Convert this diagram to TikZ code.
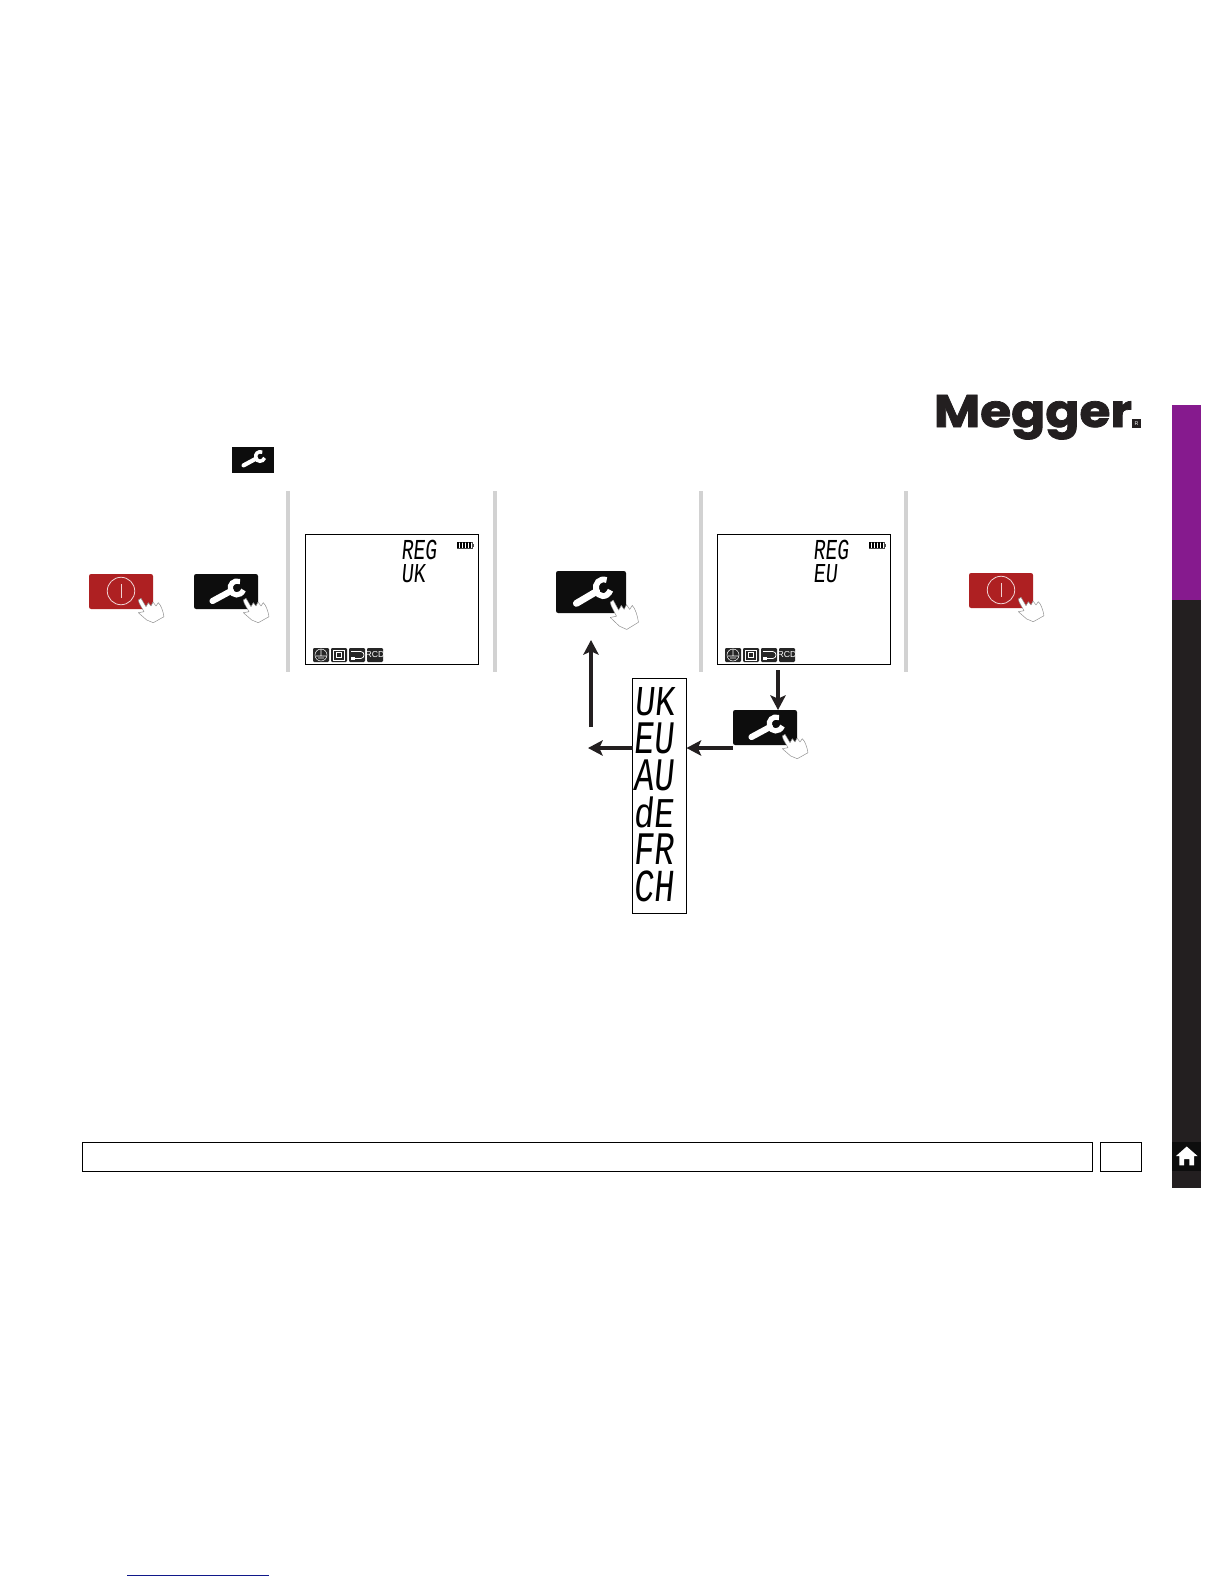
\documentclass[tikz,border=0pt]{standalone}
\usepackage{fontspec}
\usepackage{graphicx}
\usetikzlibrary{arrows.meta}
\setmainfont{Liberation Sans}
\newfontfamily\lcdf{Liberation Mono}
\newfontfamily\logof[BoldFeatures={FakeBold=1.6}]{Poppins}
\definecolor{btnred}{HTML}{AE2022}
\definecolor{btnblack}{HTML}{0D0D0D}
\definecolor{barpurple}{HTML}{861A8E}
\definecolor{bardark}{HTML}{231F20}
\definecolor{divgrey}{HTML}{D2D2D2}
\definecolor{linkblue}{HTML}{10188A}
\newcommand{\lcdword}[3]{\resizebox{#1pt}{#2pt}{\lcdf #3}}
\tikzset{
  x=0.75pt,y=-0.75pt,
  redbtn/.style={fill=btnred,draw=none,rounded corners=1.6pt,minimum width=48pt,minimum height=26.25pt,inner sep=0,outer sep=0},
  blackbtn/.style={fill=btnblack,draw=none,rounded corners=1.6pt,minimum width=48pt,minimum height=26.25pt,inner sep=0,outer sep=0},
  bigbtn/.style={fill=btnblack,draw=none,rounded corners=1.6pt,minimum width=52.5pt,minimum height=31.5pt,inner sep=0,outer sep=0},
  topbtn/.style={fill=btnblack,draw=none,minimum width=31.5pt,minimum height=19.5pt,inner sep=0,outer sep=0},
  lcdscreen/.style={draw=black,line width=0.75pt,fill=white,minimum width=129.5pt,minimum height=97.5pt,inner sep=0,outer sep=0},
  stackbox/.style={draw=black,line width=0.6pt,fill=white,minimum width=40.5pt,minimum height=176.5pt,inner sep=0,outer sep=0},
  footbox/.style={draw=black,line width=0.6pt,fill=white,minimum height=21.8pt,inner sep=0,outer sep=0},
  divider/.style={draw=divgrey,line width=3pt},
  flow/.style={draw=bardark,line width=2.4pt,-{Stealth[length=11pt,width=11.5pt,inset=2.5pt]}},
  lcdtext/.style={inner sep=0,outer sep=0,anchor=north west,xslant=0.1,text=black},
  iconbox/.style={fill=black!85,draw=none,rounded corners=0.8pt,minimum width=12pt,minimum height=10.5pt,inner sep=0,outer sep=0},
  pics/fingerhand/.style={code={
    \draw[fill=white,draw=black!45,line width=0.35pt,line join=round]
      (49.3,26) -- (52,24.3) -- (57,32.7) -- (59.3,28.7) -- (62,32) -- (64,28) -- (67,32)
      -- (69.3,28.7) .. controls (72,31) and (74,37) .. (75,42.7) -- (64.3,48.7)
      -- (57.7,46) -- (49.3,38.7) -- (55,37.7) -- (50.3,29.3) -- cycle;
  }},
  pics/spanner/.style={code={
    \draw[white,line width={4.6pt*#1},line cap=round] (18.5,27) -- (37,17);
    \draw[white,line width={3.9pt*#1}] (46,7.5) .. controls (39.5,5.5) and (35,10.5) .. (36.5,16) .. controls (38,22) and (46.5,23) .. (49.5,16);
  }},
  pics/battery/.style={code={
    \draw[black!70,line width=0.4pt] (0,0) rectangle (15,6);
    \fill[black!70] (15,1.5) rectangle (17,4.5);
    \foreach \i in {0.3,3.2,6.1,9,11.9} \fill[black] (\i,0) rectangle (\i+2.1,6);
  }},
}
\begin{document}
\begin{tikzpicture}
\useasboundingbox (0,0) rectangle (1224,1584);
\fill[white] (0,0) rectangle (1224,1584);

% side bar
\fill[barpurple] (1172,405) rectangle (1201,600);
\fill[bardark] (1172,600) rectangle (1201,1188);
\node[fill=btnblack,minimum width=22pt,minimum height=21.75pt,inner sep=0,outer sep=0] (homebox) at (1186.5,1156.5) {};
\fill[white] (1186.7,1146.5) -- (1197.5,1156) -- (1194,1156) -- (1194,1165.3) -- (1189.3,1165.3) -- (1189.3,1159) -- (1184,1159) -- (1184,1165.3) -- (1179.3,1165.3) -- (1179.3,1156) -- (1176,1156) -- cycle;

% logo
\node[inner sep=0,outer sep=0,anchor=base west,text=bardark] (logo) at (934,427) {\resizebox{148.5pt}{24pt}{\logof\bfseries Megger}};
\node[fill=bardark,minimum size=6.75pt,inner sep=0,outer sep=0,text=white,font=\fontsize{4}{4}\selectfont] (regmark) at (1136.5,423.5) {R};

% top spanner
\node[topbtn] (topw) at (253,460) {};
\pic[scale=0.68] at (231,447) {spanner=0.68};

% dividers
\draw[divider] (288,491) -- (288,672);
\draw[divider] (495,491) -- (495,672);
\draw[divider] (701,491) -- (701,672);
\draw[divider] (906,491) -- (906,672);

% column 1 buttons
\node[redbtn] (pwr1) at (121,591.5) {};
\node[draw=white!80!btnred,line width=0.6pt,circle,minimum size=20.6pt,inner sep=0] (pwr1c) at (121,591) {};
\draw[white!80!btnred,line width=0.6pt] (pwr1c.center)+(0,-7) -- +(0,7);
\pic at (pwr1.north west) {fingerhand};
\node[blackbtn] (set1) at (226,591.5) {};
\pic at (set1.north west) {spanner=1};
\pic at (set1.north west) {fingerhand};

% LCD 1
\node[lcdscreen] (lcd1) at (392,599.5) {};
\node[lcdtext] (reg1) at (403,540) {\lcdword{26.5}{14.5}{REG}};
\node[lcdtext] (val1) at (403,564) {\lcdword{18}{13.5}{UK}};
\pic at (457,542) {battery};
\node[iconbox] (a1) at (321,655) {};
\node[iconbox] (b1) at (339,655) {};
\node[iconbox] (c1) at (357,655) {};
\node[iconbox] (d1) at (375,655) {};
\draw[white,line width=0.4pt] (a1.center) circle[radius=6] (321,649) -- (321,656) (316,656) -- (326,656) (318,658) -- (324,658);
\draw[white,line width=0.4pt] (333.5,650) rectangle (344.5,660) (336.5,652.5) rectangle (341.5,657.5);
\draw[white,line width=0.5pt] (351,651.5) -- (361,651.5) .. controls (365,652) and (365,658) .. (361,658.5) -- (351,658.5);
\fill[white] (351,657) rectangle (355,660);
\node[text=white,font=\fontsize{6.5}{6.5}\selectfont,inner sep=0] (rcd1) at (375,655) {RCD};

% column 3 button
\node[bigbtn] (set2) at (591,592) {};
\pic[xscale=1.1,yscale=1.2] at (set2.north west) {spanner=1.12};
\pic[xscale=1.1,yscale=1.2] at (set2.north west) {fingerhand};

% LCD 2
\node[lcdscreen] (lcd2) at (804,599.5) {};
\node[lcdtext] (reg2) at (815,540) {\lcdword{26.5}{14.5}{REG}};
\node[lcdtext] (val2) at (815,564) {\lcdword{18}{13.5}{EU}};
\pic at (869,542) {battery};
\node[iconbox] (a2) at (733,655) {};
\node[iconbox] (b2) at (751,655) {};
\node[iconbox] (c2) at (769,655) {};
\node[iconbox] (d2) at (787,655) {};
\draw[white,line width=0.4pt] (a2.center) circle[radius=6] (733,649) -- (733,656) (728,656) -- (738,656) (730,658) -- (736,658);
\draw[white,line width=0.4pt] (745.5,650) rectangle (756.5,660) (748.5,652.5) rectangle (753.5,657.5);
\draw[white,line width=0.5pt] (763,651.5) -- (773,651.5) .. controls (777,652) and (777,658) .. (773,658.5) -- (763,658.5);
\fill[white] (763,657) rectangle (767,660);
\node[text=white,font=\fontsize{6.5}{6.5}\selectfont,inner sep=0] (rcd2) at (787,655) {RCD};

% column 5 button
\node[redbtn] (pwr2) at (1001,590.5) {};
\node[draw=white!80!btnred,line width=0.6pt,circle,minimum size=20.6pt,inner sep=0] (pwr2c) at (1001,590) {};
\draw[white!80!btnred,line width=0.6pt] (pwr2c.center)+(0,-7) -- +(0,7);
\pic at (pwr2.north west) {fingerhand};

% stack of regions
\node[stackbox] (stack) at (659.5,796) {};
\node[lcdtext] (sUK) at (637,687) {\lcdword{30}{21}{UK}};
\node[lcdtext] (sEU) at (637,723) {\lcdword{30}{23}{EU}};
\node[lcdtext] (sAU) at (637,760) {\lcdword{30}{23}{AU}};
\node[lcdtext] (sdE) at (637,797) {\lcdword{30}{23}{dE}};
\node[lcdtext] (sFR) at (637,834) {\lcdword{30}{23}{FR}};
\node[lcdtext] (sCH) at (637,871) {\lcdword{30}{23}{CH}};

% button under LCD 2
\node[blackbtn] (set3) at (765,727.5) {};
\pic at (set3.north west) {spanner=1};
\pic at (set3.north west) {fingerhand};

% connectors
\coordinate (leftend) at (588,748);
\coordinate (upstart) at (591,727);
\coordinate (upend) at (591,640);
\coordinate (downstart) at (778,670);
\coordinate (setleft) at (set3.west |- leftend);
\coordinate (stackleft) at (stack.west |- leftend);
\coordinate (stackright) at (stack.east |- leftend);
\draw[flow] (upstart) -- (upend);
\draw[flow] (stackleft) -- (leftend);
\draw[flow] (setleft) -- (stackright);
\draw[flow] (downstart) -- (downstart |- set3.north);

% footer
\node[footbox,minimum width=757.5pt] (foot1) at (587.5,1157) {};
\node[footbox,minimum width=30.8pt] (foot2) at (1121,1157) {};
\draw[linkblue,line width=0.75pt] (127,1575) -- (269,1575);
\end{tikzpicture}
\end{document}
